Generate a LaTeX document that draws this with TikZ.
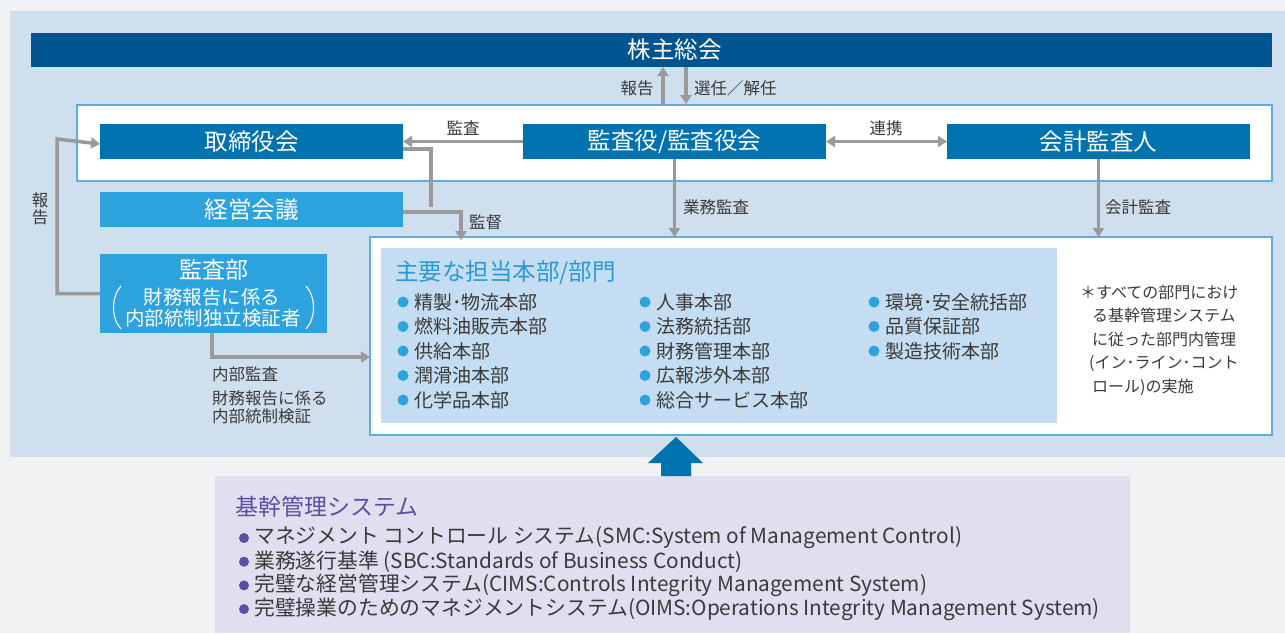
\documentclass[tikz,border=0pt]{standalone}
\usepackage{fontspec}
\setmainfont{Noto Sans CJK JP}
\usetikzlibrary{arrows.meta,calc}
\definecolor{pagebg}{HTML}{F1F2F4}
\definecolor{panel}{HTML}{CFDFEE}
\definecolor{navy}{HTML}{00548F}
\definecolor{midblue}{HTML}{0072B0}
\definecolor{skyblue}{HTML}{2CA3DC}
\definecolor{innerbg}{HTML}{C5DDF2}
\definecolor{framecol}{HTML}{5AAEE0}
\definecolor{arrowgray}{HTML}{9A9A9A}
\definecolor{txt}{HTML}{3A3A3A}
\definecolor{purplebg}{HTML}{E0DFEF}
\definecolor{purpletxt}{HTML}{5A4FA3}
\definecolor{titleblue}{HTML}{2A9AD6}
\tikzset{
  boxbase/.style={inner sep=0pt, outer sep=0pt, text=white, font=\fontsize{23.5}{26}\selectfont},
  darkbox/.style={boxbase, fill=midblue},
  lightbox/.style={boxbase, fill=skyblue},
  garrow/.style={draw=arrowgray, line width=3.5pt, -{Triangle[width=11pt,length=9pt]}},
  gline/.style={draw=arrowgray, line width=3.5pt},
  lbl/.style={inner sep=0pt, text=txt, font=\fontsize{16.5}{19}\selectfont},
  item/.style={inner sep=0pt, anchor=west, text=txt, font=\fontsize{19}{22}\selectfont},
  bitem/.style={inner sep=0pt, anchor=west, text=txt, font=\fontsize{20.8}{22}\selectfont},
}
\begin{document}
\begin{tikzpicture}[x=1pt,y=-1pt]
\useasboundingbox (0,0) rectangle (1285,633);
\fill[pagebg] (0,0) rectangle (1285,633);
\fill[panel] (10,11) rectangle (1285,457);
% frames
\draw[framecol, line width=1.5pt, fill=white] (77,105) rectangle (1272,181);
\draw[framecol, line width=1.5pt, fill=white] (370,237) rectangle (1272,435);
\fill[innerbg] (381,248) rectangle (1057,423);
\coordinate (upperTop) at (0,105);
\coordinate (lowerTop) at (0,237);

% boxes
\node[boxbase, fill=navy, minimum width=1241pt, minimum height=34pt] (kabu) at (651.5,50) {};
\node[boxbase] (kabutext) at (674.5,50) {株主総会};
\node[darkbox, minimum width=303pt, minimum height=35pt] (tori) at (251.5,141.5) {取締役会};
\node[lightbox, minimum width=303pt, minimum height=35pt] (keiei) at (251.5,209.5) {経営会議};
\node[darkbox, minimum width=303pt, minimum height=35pt] (kansa) at (674.5,141.5) {監査役/監査役会};
\node[darkbox, minimum width=303pt, minimum height=35pt] (kaikei) at (1098.5,141.5) {会計監査人};
\node[lightbox, minimum width=227pt, minimum height=79pt] (kansabu) at (213.5,293.5) {};
\node[boxbase, font=\fontsize{23}{24}\selectfont] (kbtitle) at (213.5,270) {監査部};
\node[boxbase, font=\fontsize{19.5}{20}\selectfont] (kbl1) at (212,297) {財務報告に係る};
\node[boxbase, font=\fontsize{19.5}{20}\selectfont] (kbl2) at (213,318.5) {内部統制独立検証者};
\draw[white, line width=1.1pt] (121,286) .. controls (111,297) and (111,318) .. (121,329);
\draw[white, line width=1.1pt] (306,286) .. controls (316,297) and (316,318) .. (306,329);

% connectors
\coordinate (repx) at (663,0);
\coordinate (selx) at (686,0);
\draw[garrow] (kabu.south -| repx) ++(0,37) -- (kabu.south -| repx);
\draw[garrow] (kabu.south -| selx) -- ++(0,37);
\node[lbl] (lrep) at (637,88) {報告};
\node[lbl, anchor=west] (lsel) at (694,88) {選任／解任};

\draw[garrow] (kansa.west) -- (tori.east);
\node[lbl] (lkansa) at (463,128) {監査};
\draw[draw=arrowgray, line width=3.5pt, {Triangle[width=11pt,length=9pt]}-{Triangle[width=11pt,length=9pt]}] (kansa.east) -- (kaikei.west);
\node[lbl] (lrenkei) at (886,128) {連携};

\coordinate (jn) at (431,207);
\draw[gline] ([yshift=-7.5pt]tori.east) -| (jn);
\draw[garrow] ([yshift=-2.5pt]keiei.east) -- ++(58,0) -- ++(0,28);
\node[lbl, anchor=west] (lkantoku) at (469,222) {監督};

\draw[garrow] (kansa.south) -- (kansa.south |- lowerTop);
\node[lbl, anchor=west] (lgyomu) at (683,207) {業務監査};
\draw[garrow] (kaikei.south) -- (kaikei.south |- lowerTop);
\node[lbl, anchor=west] (lkaikei) at (1105,207) {会計監査};

\draw[garrow] (kansabu.west) -- (57,293.5) -- (57,139) -- ([yshift=-2.5pt]tori.west);
\node[lbl, align=center] (lhoukoku) at (40,209) {報\\[-2pt]告};

\draw[garrow] ([xshift=-1.5pt]kansabu.south) -- ++(0,24) -- (370,357);
\node[lbl, anchor=west] (lnaibu) at (212,374) {内部監査};
\node[lbl, anchor=west, align=left] (lzaimu) at (212,407) {財務報告に係る\\[-1pt]内部統制検証};

% departments
\node[inner sep=0pt, anchor=west, text=titleblue, font=\fontsize{23.5}{26}\selectfont] (deptitle) at (395,273) {主要な担当本部/部門};
\foreach \t [count=\i] in {精製･物流本部,燃料油販売本部,供給本部,潤滑油本部,化学品本部}{
  \fill[skyblue] (403,{302+(\i-1)*24.5}) circle (5.5);
  \node[item] at (414,{302+(\i-1)*24.5}) {\t};
}
\foreach \t [count=\i] in {人事本部,法務統括部,財務管理本部,広報渉外本部,総合サービス本部}{
  \fill[skyblue] (645,{302+(\i-1)*24.5}) circle (5.5);
  \node[item] at (656,{302+(\i-1)*24.5}) {\t};
}
\foreach \t [count=\i] in {環境･安全統括部,品質保証部,製造技術本部}{
  \fill[skyblue] (874,{302+(\i-1)*24.5}) circle (5.5);
  \node[item] at (885,{302+(\i-1)*24.5}) {\t};
}
\node[inner sep=0pt, anchor=north west, text=txt, font=\fontsize{16}{23.4}\selectfont, align=left] (note) at (1080,285)
  {＊すべての部門におけ\\\hspace{12pt}る基幹管理システム\\\hspace{12pt}に従った部門内管理\\\hspace{9pt}(イン･ライン･コント\\\hspace{12pt}ロール)の実施};

% big arrow + system box
\fill[purplebg] (215,476) rectangle (1130,633);
\fill[midblue] (648,463) -- (676,437) -- (703,463) -- (691,463) -- (691,476) -- (661,476) -- (661,463) -- cycle;
\node[inner sep=0pt, anchor=west, text=purpletxt, font=\fontsize{23}{26}\selectfont] (systitle) at (235,507) {基幹管理システム};
\foreach \t [count=\i] in {
  マネジメント コントロール システム(SMC:System of Management Control),
  業務遂行基準 (SBC:Standards of Business Conduct),
  完璧な経営管理システム(CIMS:Controls Integrity Management System),
  完璧操業のためのマネジメントシステム(OIMS:Operations Integrity Management System)}{
  \fill[purpletxt] (244,{538+(\i-1)*23.7}) circle (5);
  \node[bitem] at (254,{538+(\i-1)*23.7}) {\t};
}
\end{tikzpicture}
\end{document}
